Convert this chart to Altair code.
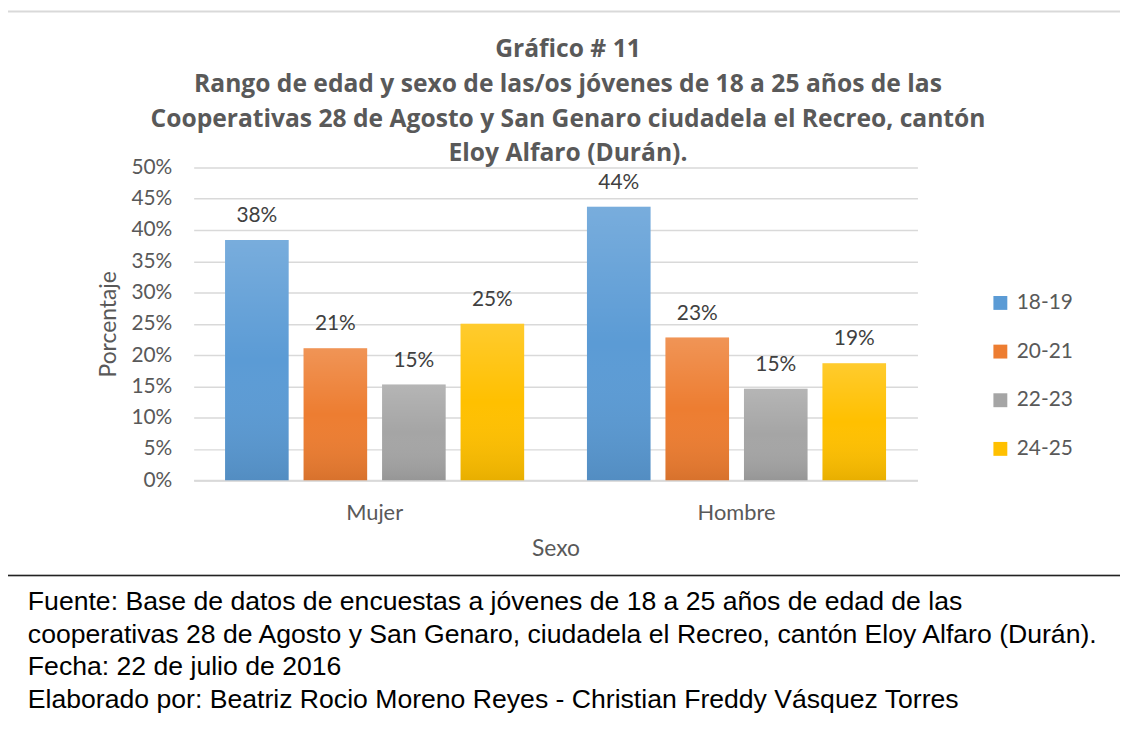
import altair as alt
import pandas as pd

sexo = ["Mujer", "Hombre"]
edades = ["18-19", "20-21", "22-23", "24-25"]
mujer = [0.384, 0.211, 0.153, 0.250]
hombre = [0.437, 0.228, 0.146, 0.187]
colores = ["#5b9bd5", "#ed7d31", "#a5a5a5", "#ffc000"]
y_ticks = [0, 0.05, 0.10, 0.15, 0.20, 0.25, 0.30, 0.35, 0.40, 0.45, 0.50]

titulo = [
    "Gráfico # 11",
    "Rango de edad y sexo de las/os jóvenes de 18 a 25 años de las",
    "Cooperativas 28 de Agosto y San Genaro ciudadela el Recreo, cantón",
    "Eloy Alfaro (Durán).",
]
nota = [
    "Fuente: Base de datos de encuestas a jóvenes de 18 a 25 años de edad de las",
    "cooperativas 28 de Agosto y San Genaro, ciudadela el Recreo, cantón Eloy Alfaro (Durán).",
    "Fecha: 22 de julio de 2016",
    "Elaborado por: Beatriz Rocio Moreno Reyes - Christian Freddy Vásquez Torres",
]

rows = []
for s, vals in zip(sexo, [mujer, hombre]):
    for e, v in zip(edades, vals):
        rows.append({"Sexo": s, "Edad": e, "Valor": v})
df = pd.DataFrame(rows)

FONT = "Lato"
GRAY = "#595959"

W, H = 729, 315

base = alt.Chart(df).encode(
    x=alt.X(
        "Sexo:N",
        sort=sexo,
        scale=alt.Scale(paddingInner=0, paddingOuter=0),
        axis=alt.Axis(
            title="Sexo",
            labelAngle=0,
            ticks=False,
            domain=True,
            domainColor="#d9d9d9",
            domainWidth=2,
            labelPadding=33,
            labelBaseline="middle",
            labelFontSize=22,
            labelColor=GRAY,
            labelFont=FONT,
            titleFont=FONT,
            titleFontSize=23,
            titleFontWeight="normal",
            titleColor=GRAY,
            titleY=69,
            titleBaseline="middle",
        ),
    ),
    xOffset=alt.XOffset(
        "Edad:N", sort=edades, scale=alt.Scale(paddingInner=0.19, paddingOuter=0.4)
    ),
    y=alt.Y(
        "Valor:Q",
        scale=alt.Scale(domain=[0, 0.5]),
        axis=alt.Axis(
            title="Porcentaje",
            format=".0%",
            values=y_ticks,
            grid=True,
            gridColor="#d9d9d9",
            gridWidth=1.5,
            domain=False,
            ticks=False,
            labelPadding=22,
            labelFontSize=21,
            labelColor=GRAY,
            labelFont=FONT,
            titleFont=FONT,
            titleFontSize=23,
            titleFontWeight="normal",
            titleColor=GRAY,
            titleX=-86,
            titleY=H / 2,
            titleAngle=-90,
            titleBaseline="middle",
            titleAlign="center",
        ),
    ),
)

bars = base.mark_bar().encode(
    color=alt.Color(
        "Edad:N",
        sort=edades,
        scale=alt.Scale(domain=edades, range=colores),
        legend=alt.Legend(
            orient="none",
            legendX=802,
            legendY=126,
            title=None,
            symbolType="square",
            symbolSize=196,
            symbolStrokeWidth=0,
            labelFont=FONT,
            labelFontSize=21,
            labelColor=GRAY,
            labelOffset=6,
            rowPadding=27,
            padding=0,
        ),
    )
)

shade = base.mark_bar(
    color=alt.Gradient(
        gradient="linear",
        x1=0, y1=0, x2=0, y2=1,
        stops=[
            alt.GradientStop(offset=0, color="rgba(255,255,255,0.18)"),
            alt.GradientStop(offset=0.5, color="rgba(255,255,255,0)"),
            alt.GradientStop(offset=1, color="rgba(0,0,0,0.09)"),
        ],
    )
)

labels = base.mark_text(
    baseline="alphabetic", dy=-18, font=FONT, fontSize=21, color="#404040"
).encode(text=alt.Text("Valor:Q", format=".0%"))

one = pd.DataFrame({"k": [0]})
frame = alt.Chart(one).mark_rect(
    fillOpacity=0, stroke="#d9d9d9", strokeWidth=2
).encode(
    x=alt.value(-188), x2=alt.value(980), y=alt.value(-157), y2=alt.value(411)
)
box = alt.Chart(one).mark_rect(
    fillOpacity=0, stroke="#222222", strokeWidth=1.5
).encode(
    x=alt.value(-188), x2=alt.value(980), y=alt.value(411), y2=alt.value(700)
)

title_layers = []
for i, line in enumerate(titulo):
    title_layers.append(
        alt.Chart(one).mark_text(
            text=line, align="center", baseline="alphabetic",
            font="Open Sans", fontSize=24.8, fontWeight="bold", color=GRAY
        ).encode(x=alt.value(377), y=alt.value(-111 + i * 35))
    )

notes = []
for i, line in enumerate(nota):
    notes.append(
        alt.Chart(one).mark_text(
            text=line, align="left", baseline="alphabetic",
            font="Liberation Sans", fontSize=26.8, color="#000000"
        ).encode(x=alt.value(-167), y=alt.value(446 + i * 32.7))
    )

chart = alt.layer(frame, box, bars, shade, labels, *title_layers, *notes).properties(
    width=W,
    height=H,
    padding={"left": 187, "top": 158, "right": 204, "bottom": 238},
    autosize=alt.AutoSizeParams(type="none"),
).configure_view(stroke=None)

chart.save("out.html", embed_options={"renderer": "svg", "actions": False})
